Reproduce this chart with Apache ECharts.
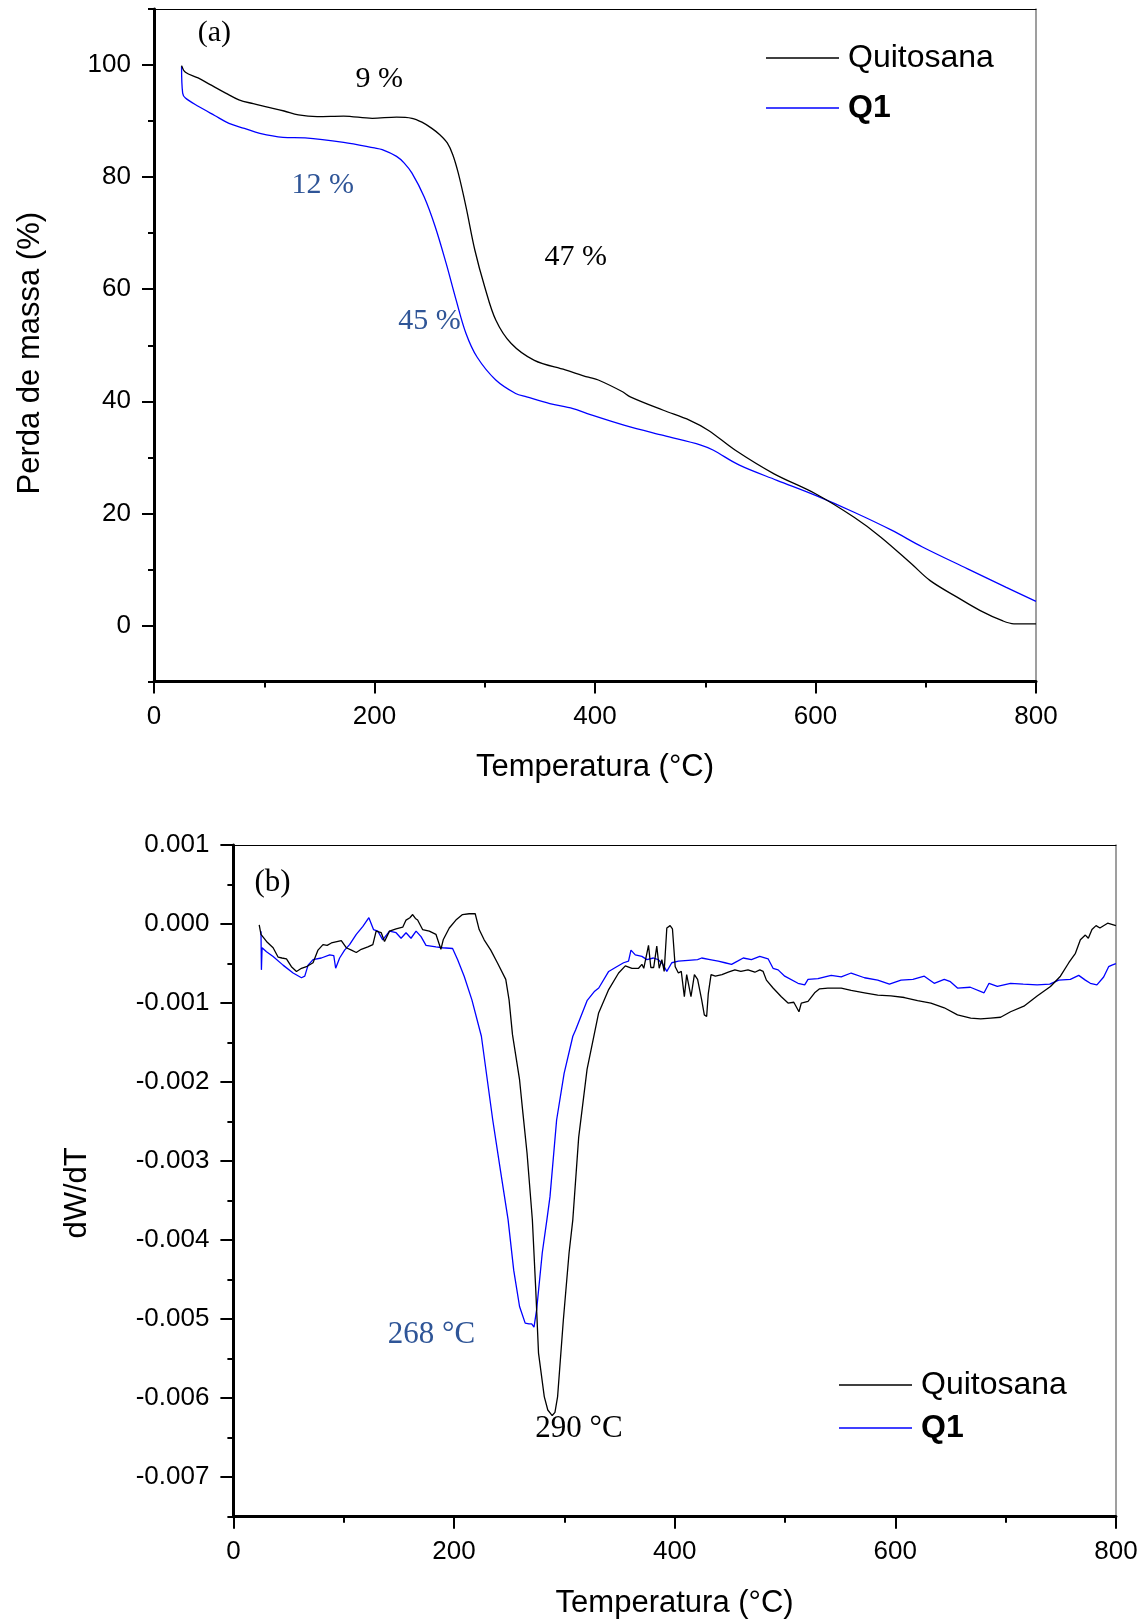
<!DOCTYPE html>
<html>
<head>
<meta charset="utf-8">
<script src="https://cdn.jsdelivr.net/npm/echarts@6/dist/echarts.min.js"></script>
<style>
html,body{margin:0;padding:0;background:#fff;}
#chart{width:1147px;height:1621px;}
</style>
</head>
<body>
<div id="chart"></div>
<script>
// ---------- DATA ----------
// (a) TGA : temperature (°C) and residual mass (%)
const tgaQuitosanaT = [25, 28.5, 40, 51, 65, 77, 90, 103, 118, 131, 148, 172, 198, 220, 234, 243, 252, 259, 266, 271, 276, 283, 291, 300, 310, 324, 345, 373, 394, 403, 425, 432, 462, 486, 503, 527, 562, 600, 635, 659, 687, 704, 728, 749, 770, 780, 800];
const tgaQuitosanaW = [99.9, 98.7, 97.7, 96.5, 95.0, 93.8, 93.1, 92.5, 91.8, 91.1, 90.8, 90.9, 90.5, 90.7, 90.5, 89.8, 88.7, 87.6, 86.1, 84.0, 80.7, 74.7, 67.0, 60.4, 54.5, 50.3, 47.3, 45.6, 44.3, 43.8, 41.7, 40.8, 38.4, 36.6, 34.8, 31.3, 27.1, 23.5, 19.3, 15.8, 11.0, 8.0, 5.1, 2.7, 0.8, 0.3, 0.3];

const tgaQ1T = [25, 26, 28.5, 40.5, 55, 68, 82, 96, 117, 137, 172, 200, 207, 220, 227, 234, 245, 255, 265, 274, 283, 293, 310, 328, 338, 359, 380, 393, 427, 462, 496, 507, 531, 565, 600, 635, 669, 697, 738, 773, 800];
const tgaQ1W = [99.8, 95.0, 94.1, 92.6, 91.0, 89.6, 88.7, 87.8, 87.1, 87.0, 86.2, 85.2, 84.9, 83.7, 82.5, 80.7, 76.5, 71.2, 64.6, 58.1, 52.1, 47.9, 43.8, 41.4, 40.8, 39.6, 38.7, 37.8, 35.7, 33.9, 32.2, 31.3, 28.6, 25.9, 23.2, 20.2, 17.0, 14.0, 10.1, 6.8, 4.3];

// (b) DTG : temperature (°C) and dW/dT
const dtgQuitosanaT = [23.4, 25, 30, 36, 40.6, 44, 48.1, 52.6, 57.2, 61.7, 66.2, 72.2, 76.7, 81.2, 85, 88.8, 94.8, 97.8, 102.3, 107, 111.4, 115.9, 121.9, 126.4, 129.4, 134, 137, 141.5, 147.5, 153.5, 156.5, 160, 162.5, 165, 167, 171.5, 177.6, 183.6, 188.1, 190.2, 195.7, 201.7, 207.7, 213.7, 219.2, 222.8, 227.3, 233.3, 239.3, 246.9, 249.9, 253, 259.4, 262.5, 266.2, 271, 274, 276.6, 281.8, 285, 289, 291.5, 293.9, 299.1, 304.3, 307.7, 313, 320.6, 331, 340.2, 349.2, 355.3, 361.3, 367.3, 370.3, 372, 376.3, 378.4, 381, 383.8, 386, 388.4, 390.5, 392.9, 395.9, 398, 400.5, 403.4, 406, 408.8, 410.9, 412.5, 414.8, 417.9, 420.8, 424.5, 426.9, 429, 430.5, 433, 436.9, 442.9, 448.6, 454.6, 460, 466.5, 472.7, 477.2, 480.2, 483.2, 489.2, 496.7, 502.8, 508, 512.7, 514.8, 520.9, 526.9, 531.4, 538.9, 551, 560, 572.1, 584.1, 596.1, 608.2, 620.2, 632.3, 644.4, 656.4, 668.4, 677.4, 686.5, 695.5, 704.5, 716.6, 728.6, 740.7, 749.7, 757.3, 763.3, 767.8, 772.3, 775, 778.3, 782, 785.5, 792.5, 800];
const dtgQuitosanaV = [-0.01e-3, -0.13e-3, -0.22e-3, -0.30e-3, -0.42e-3, -0.43e-3, -0.44e-3, -0.54e-3, -0.60e-3, -0.56e-3, -0.54e-3, -0.49e-3, -0.33e-3, -0.26e-3, -0.27e-3, -0.24e-3, -0.22e-3, -0.21e-3, -0.30e-3, -0.33e-3, -0.36e-3, -0.32e-3, -0.29e-3, -0.26e-3, -0.09e-3, -0.11e-3, -0.22e-3, -0.09e-3, -0.06e-3, -0.04e-3, 0.05e-3, 0.08e-3, 0.12e-3, 0.07e-3, 0.05e-3, -0.07e-3, -0.09e-3, -0.13e-3, -0.32e-3, -0.20e-3, -0.05e-3, 0.05e-3, 0.12e-3, 0.13e-3, 0.13e-3, -0.07e-3, -0.20e-3, -0.33e-3, -0.49e-3, -0.70e-3, -0.96e-3, -1.40e-3, -1.97e-3, -2.40e-3, -2.90e-3, -3.74e-3, -4.60e-3, -5.43e-3, -5.98e-3, -6.15e-3, -6.22e-3, -6.18e-3, -5.98e-3, -5.01e-3, -4.16e-3, -3.74e-3, -2.70e-3, -1.84e-3, -1.13e-3, -0.83e-3, -0.62e-3, -0.53e-3, -0.56e-3, -0.56e-3, -0.51e-3, -0.56e-3, -0.27e-3, -0.55e-3, -0.55e-3, -0.28e-3, -0.56e-3, -0.45e-3, -0.60e-3, -0.05e-3, -0.02e-3, -0.06e-3, -0.54e-3, -0.62e-3, -0.60e-3, -0.92e-3, -0.64e-3, -0.66e-3, -0.92e-3, -0.64e-3, -0.70e-3, -0.96e-3, -1.15e-3, -1.17e-3, -0.88e-3, -0.64e-3, -0.66e-3, -0.64e-3, -0.61e-3, -0.58e-3, -0.60e-3, -0.58e-3, -0.61e-3, -0.58e-3, -0.60e-3, -0.71e-3, -0.81e-3, -0.92e-3, -1.00e-3, -0.99e-3, -1.11e-3, -1.00e-3, -0.98e-3, -0.87e-3, -0.82e-3, -0.81e-3, -0.81e-3, -0.84e-3, -0.87e-3, -0.90e-3, -0.91e-3, -0.93e-3, -0.97e-3, -1.00e-3, -1.06e-3, -1.15e-3, -1.19e-3, -1.20e-3, -1.19e-3, -1.18e-3, -1.11e-3, -1.04e-3, -0.91e-3, -0.79e-3, -0.66e-3, -0.49e-3, -0.37e-3, -0.20e-3, -0.14e-3, -0.18e-3, -0.07e-3, -0.02e-3, -0.05e-3, 0.01e-3, -0.02e-3];

const dtgQ1T = [25, 25.4, 26, 30, 36, 45, 54.1, 61.7, 64.7, 67.7, 72.2, 79.7, 87.3, 91, 92.7, 96.3, 100.8, 105.3, 111.4, 117.4, 122.8, 127, 130.9, 135.4, 141.5, 147.5, 152, 156.5, 161, 165.6, 170.1, 174.6, 183.6, 189.6, 198.7, 203.2, 209.2, 216.2, 224.8, 235.1, 242, 249, 254.1, 259.4, 264.5, 268, 270.4, 272.5, 274.9, 280, 284.2, 287, 293, 299.8, 307.7, 310.2, 320.6, 327.5, 331.2, 340.2, 346.3, 353.7, 358.2, 360.4, 364.3, 370.3, 374.8, 380.8, 385, 389.3, 392.9, 397.4, 403.4, 412.4, 420.8, 424.5, 432, 439.5, 445.6, 451.6, 457, 462.2, 469.6, 477.2, 484.7, 489.2, 493.8, 499.8, 511.8, 517.9, 520.9, 529.9, 541.9, 551, 560, 572.1, 584.1, 594.7, 605.2, 616, 626.3, 635.3, 644.4, 650, 656.4, 668, 680.5, 685, 692.5, 704.5, 716, 728.6, 740, 748.2, 758.7, 766.3, 772.3, 776.8, 782.8, 788.9, 793.4, 796.4, 800];
const dtgQ1V = [-0.09e-3, -0.58e-3, -0.30e-3, -0.35e-3, -0.41e-3, -0.52e-3, -0.62e-3, -0.68e-3, -0.66e-3, -0.52e-3, -0.45e-3, -0.43e-3, -0.39e-3, -0.40e-3, -0.56e-3, -0.43e-3, -0.33e-3, -0.26e-3, -0.13e-3, -0.03e-3, 0.08e-3, -0.07e-3, -0.09e-3, -0.20e-3, -0.09e-3, -0.11e-3, -0.18e-3, -0.11e-3, -0.18e-3, -0.09e-3, -0.16e-3, -0.27e-3, -0.29e-3, -0.30e-3, -0.31e-3, -0.45e-3, -0.66e-3, -0.96e-3, -1.42e-3, -2.48e-3, -3.11e-3, -3.74e-3, -4.38e-3, -4.84e-3, -5.05e-3, -5.06e-3, -5.06e-3, -5.10e-3, -4.88e-3, -4.16e-3, -3.74e-3, -3.45e-3, -2.48e-3, -1.89e-3, -1.42e-3, -1.34e-3, -0.97e-3, -0.85e-3, -0.81e-3, -0.60e-3, -0.55e-3, -0.49e-3, -0.47e-3, -0.33e-3, -0.39e-3, -0.41e-3, -0.45e-3, -0.43e-3, -0.45e-3, -0.51e-3, -0.60e-3, -0.49e-3, -0.47e-3, -0.46e-3, -0.45e-3, -0.43e-3, -0.45e-3, -0.47e-3, -0.49e-3, -0.51e-3, -0.47e-3, -0.43e-3, -0.45e-3, -0.41e-3, -0.44e-3, -0.56e-3, -0.58e-3, -0.66e-3, -0.75e-3, -0.77e-3, -0.70e-3, -0.69e-3, -0.65e-3, -0.67e-3, -0.62e-3, -0.68e-3, -0.71e-3, -0.76e-3, -0.71e-3, -0.70e-3, -0.66e-3, -0.75e-3, -0.70e-3, -0.73e-3, -0.81e-3, -0.80e-3, -0.87e-3, -0.75e-3, -0.79e-3, -0.75e-3, -0.76e-3, -0.77e-3, -0.76e-3, -0.71e-3, -0.70e-3, -0.65e-3, -0.71e-3, -0.75e-3, -0.77e-3, -0.67e-3, -0.54e-3, -0.52e-3, -0.50e-3];

// axis tick labels
const xTicks = [0, 200, 400, 600, 800];
const tgaMajorTicks = [0, 20, 40, 60, 80, 100];
const tgaMinorTicks = [-10, 10, 30, 50, 70, 90, 110];
const dtgMajorTicks = [-0.007, -0.006, -0.005, -0.004, -0.003, -0.002, -0.001, 0, 0.001];
const dtgMinorTicks = [-0.0075, -0.0065, -0.0055, -0.0045, -0.0035, -0.0025, -0.0015, -0.0005, 0.0005];

// annotations [label, T, value]
const tgaNotes = [['(a)', 54.8, 105.7, 'k'], ['9 %', 204.4, 97.4, 'k'], ['12 %', 153, 78.6, 'b'], ['47 %', 382.5, 65.8, 'k'], ['45 %', 249.8, 54.3, 'b']];
const dtgNotes = [['(b)', 35.5, 0.00052, 'k'], ['268 °C', 179.5, -0.0052, 'b'], ['290 °C', 313.3, -0.00639, 'k']];

// ---------- CHART ----------
const zip = (xs, ys) => xs.map((x, i) => [x, ys[i]]);
const SANS = 'Liberation Sans, Arial, sans-serif';
const SERIF = 'Liberation Serif, Times New Roman, serif';
const NOTE_BLUE = '#2f5597';

function notePoints(list, size) {
  return list.map(([txt, x, y, c]) => ({
    coord: [x, y],
    symbol: 'circle',
    symbolSize: 1,
    itemStyle: { color: 'rgba(0,0,0,0)' },
    label: {
      show: true, position: 'inside', formatter: txt,
      fontFamily: SERIF, fontSize: size, color: c === 'b' ? NOTE_BLUE : '#000'
    }
  }));
}

const axisLineMain = { show: true, onZero: false, lineStyle: { color: '#000', width: 3 } };
const labelStyle = { fontSize: 26, color: '#000', fontFamily: SANS };
const nameStyle = { fontSize: 31, color: '#000', fontFamily: SANS };

function bottomX(gridIndex, margin, nameGap) {
  return {
    type: 'value', gridIndex, min: 0, max: 800, interval: 200, position: 'bottom',
    axisLine: axisLineMain,
    axisTick: { show: true, length: 12, customValues: xTicks, lineStyle: { color: '#000', width: 2 } },
    minorTick: { show: true, splitNumber: 2, length: 6, lineStyle: { color: '#000', width: 2 } },
    splitLine: { show: false },
    axisLabel: Object.assign({ margin, customValues: xTicks }, labelStyle),
    name: 'Temperatura (°C)', nameLocation: 'middle', nameGap, nameTextStyle: nameStyle
  };
}
function topX(gridIndex) {
  return {
    type: 'value', gridIndex, min: 0, max: 800, position: 'top',
    axisLine: { show: true, onZero: false, lineStyle: { color: '#000', width: 1.2 } },
    axisTick: { show: false }, axisLabel: { show: false }, splitLine: { show: false }
  };
}
function rightY(gridIndex, min, max) {
  return {
    type: 'value', gridIndex, min, max, position: 'right',
    axisLine: { show: true, onZero: false, lineStyle: { color: '#7f7f7f', width: 1.5 } },
    axisTick: { show: false }, axisLabel: { show: false }, splitLine: { show: false }
  };
}

const legendBase = {
  orient: 'vertical', padding: 0, itemWidth: 73, itemHeight: 1.6, icon: 'rect',
  selectedMode: false,
  data: [{ name: 'Quitosana' }, { name: 'Q1', textStyle: { fontWeight: 'bold' } }]
};

const option = {
  animation: false,
  backgroundColor: '#fff',
  grid: [
    { left: 154, top: 9, width: 882, height: 672.5 },
    { left: 233.4, top: 845, width: 882.5, height: 671.7 }
  ],
  xAxis: [bottomX(0, 22, 70), topX(0), bottomX(1, 22, 71), topX(1)],
  yAxis: [
    {
      type: 'value', gridIndex: 0, min: -10, max: 110, position: 'left',
      axisLine: axisLineMain,
      axisTick: { show: true, length: 12, customValues: tgaMajorTicks, lineStyle: { color: '#000', width: 2 } },
      axisLabel: Object.assign({ margin: 23, customValues: tgaMajorTicks }, labelStyle),
      splitLine: { show: false },
      name: 'Perda de massa (%)', nameLocation: 'middle', nameGap: 108, nameRotate: 90,
      nameTextStyle: Object.assign({ padding: [0, 16, 0, 0] }, nameStyle)
    },
    {
      type: 'value', gridIndex: 0, min: -10, max: 110, position: 'left',
      axisLine: { show: false, onZero: false },
      axisTick: { show: true, length: 6, customValues: tgaMinorTicks, lineStyle: { color: '#000', width: 2 } },
      axisLabel: { show: false }, splitLine: { show: false }
    },
    rightY(0, -10, 110),
    {
      type: 'value', gridIndex: 1, min: -0.0075, max: 0.001, position: 'left',
      axisLine: axisLineMain,
      axisTick: { show: true, length: 13, customValues: dtgMajorTicks, lineStyle: { color: '#000', width: 2 } },
      axisLabel: Object.assign({ margin: 24, customValues: dtgMajorTicks, formatter: v => v.toFixed(3) }, labelStyle),
      splitLine: { show: false },
      name: 'dW/dT', nameLocation: 'middle', nameGap: 140, nameRotate: 90,
      nameTextStyle: Object.assign({ padding: [0, 24, 0, 0] }, nameStyle)
    },
    {
      type: 'value', gridIndex: 1, min: -0.0075, max: 0.001, position: 'left',
      axisLine: { show: false, onZero: false },
      axisTick: { show: true, length: 6, customValues: dtgMinorTicks, lineStyle: { color: '#000', width: 2 } },
      axisLabel: { show: false }, splitLine: { show: false }
    },
    rightY(1, -0.0075, 0.001)
  ],
  legend: [
    Object.assign({}, legendBase, {
      left: 766, top: 38, itemGap: 10,
      textStyle: { fontSize: 32, lineHeight: 40, color: '#000', fontFamily: SANS, padding: [0, 0, 0, 4] }
    }),
    Object.assign({}, legendBase, {
      left: 839, top: 1368, itemGap: 9,
      textStyle: { fontSize: 32, lineHeight: 34, color: '#000', fontFamily: SANS, padding: [0, 0, 0, 4] }
    })
  ],
  series: [
    {
      name: 'Quitosana', type: 'line', xAxisIndex: 0, yAxisIndex: 0,
      data: zip(tgaQuitosanaT, tgaQuitosanaW), showSymbol: false, symbol: 'none',
      smooth: 0.35, color: '#000', lineStyle: { color: '#000', width: 1.3 },
      markPoint: { silent: true, data: notePoints(tgaNotes, 30) }, z: 3
    },
    {
      name: 'Q1', type: 'line', xAxisIndex: 0, yAxisIndex: 0,
      data: zip(tgaQ1T, tgaQ1W), showSymbol: false, symbol: 'none',
      smooth: 0.35, color: '#0000ff', lineStyle: { color: '#0000ff', width: 1.3 }, z: 2
    },
    {
      name: 'Quitosana', type: 'line', xAxisIndex: 2, yAxisIndex: 3,
      data: zip(dtgQuitosanaT, dtgQuitosanaV), showSymbol: false, symbol: 'none',
      color: '#000', lineStyle: { color: '#000', width: 1.3 },
      markPoint: { silent: true, data: notePoints(dtgNotes, 31) }, z: 3
    },
    {
      name: 'Q1', type: 'line', xAxisIndex: 2, yAxisIndex: 3,
      data: zip(dtgQ1T, dtgQ1V), showSymbol: false, symbol: 'none',
      color: '#0000ff', lineStyle: { color: '#0000ff', width: 1.3 }, z: 2
    }
  ]
};

const chart = echarts.init(document.getElementById('chart'), null, { renderer: 'canvas' });
chart.setOption(option);
</script>
</body>
</html>
